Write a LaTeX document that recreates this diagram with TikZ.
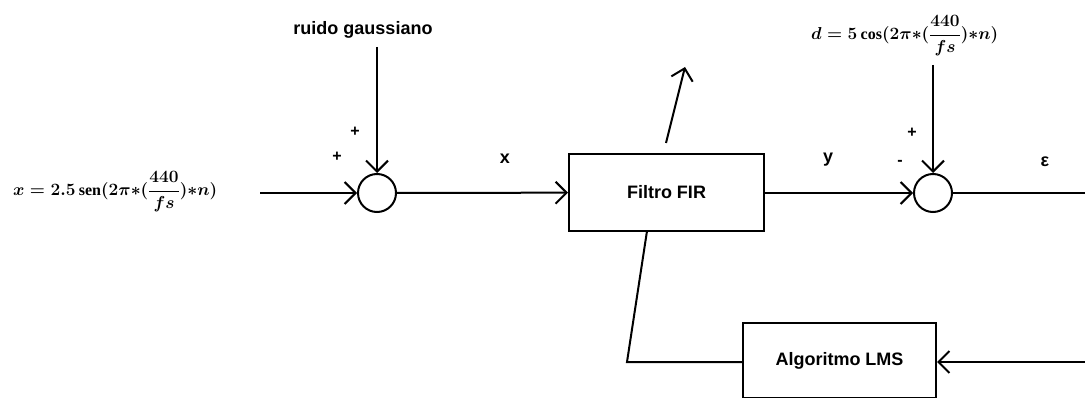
\documentclass[tikz,border=0pt]{standalone}
\usepackage{amsmath}
\usepackage{fontspec}
\setmainfont{Liberation Serif}
\setsansfont{Liberation Sans}
\usetikzlibrary{arrows.meta}
\begin{document}
\begin{tikzpicture}[x=1pt,y=-1pt, line width=2pt,
  arr/.style={-{Straight Barb[length=11pt,width=22pt,line width=2pt]}},
  sumc/.style={circle,draw,minimum size=38pt,inner sep=0pt},
  blk/.style={rectangle,draw,inner sep=0pt,font=\fontsize{18}{18}\selectfont\sffamily\bfseries},
  lbl/.style={font=\fontsize{18}{18}\selectfont\sffamily\bfseries,inner sep=0pt},
  sgn/.style={font=\fontsize{16}{16}\selectfont\sffamily\bfseries,inner sep=0pt},
  frm/.style={font=\fontsize{16}{16}\selectfont\bfseries\boldmath,inner sep=0pt}]
\path[use as bounding box] (0,0) rectangle (1085,398);
% blocks
\node[sumc] (s1) at (377,193) {};
\node[sumc] (s2) at (933,193) {};
\node[blk, minimum width=195pt, minimum height=77pt] (fir) at (666.5,192.5) {Filtro FIR};
\node[blk, minimum width=193pt, minimum height=75pt] (lms) at (839.5,360.5) {Algoritmo LMS};
% free ends
\coordinate (xin) at (260,193);
\coordinate (ntop) at (377,47);
\coordinate (dtop) at (933,65);
\coordinate (eout) at (1085,193);
\coordinate (ein) at (1085,362);
\coordinate (fbend) at (627,362);
\coordinate (firb) at (647,231);
\coordinate (wbase) at (666,143);
\coordinate (wtip) at (685,67);
% labels
\node[lbl] (tn) at (363,30) {ruido gaussiano};
\node[lbl] (tx) at (505,159) {x};
\node[lbl] (ty) at (828,160) {y};
\node[lbl] (te) at (1045,162) {ε};
\node[sgn] (p1) at (337,157) {+};
\node[sgn] (p2) at (355,132) {+};
\node[sgn] (p3) at (912,133) {+};
\node[sgn] (m1) at (900,163) {-};
\node[frm, anchor=west] (fx) at (12,192) {$x = 2.5\,\mathrm{sen}(2\pi{*}(\dfrac{440}{fs}){*}n)$};
\node[frm, anchor=west] (fd) at (810,36) {$d = 5\cos(2\pi{*}(\dfrac{440}{fs}){*}n)$};
% connectors
\draw[arr] (xin) -- (s1);
\draw[arr] (ntop) -- (s1);
\draw[arr] (s1) -- (fir);
\draw[arr] (fir.east |- s2) -- (s2);
\draw[arr] (dtop) -- (s2);
\draw (s2) -- (eout);
\draw[arr] (ein) -- (lms.east |- ein);
\draw (lms.west |- fbend) -- (fbend) -- (firb);
\draw[arr] (wbase) -- (wtip);
\end{tikzpicture}
\end{document}
